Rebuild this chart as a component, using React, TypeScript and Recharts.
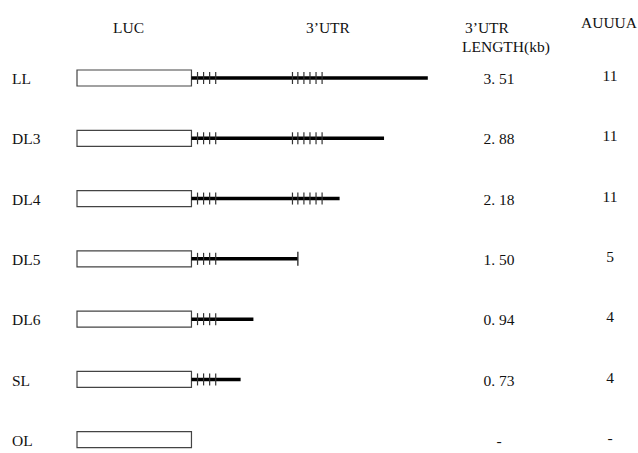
import { ComposedChart, Bar, XAxis, YAxis } from "recharts";

const constructs = ["LL", "DL3", "DL4", "DL5", "DL6", "SL", "OL"];
const lucKb = [1.7, 1.7, 1.7, 1.7, 1.7, 1.7, 1.7];
const utrDrawnKb = [3.51, 2.86, 2.2, 1.58, 0.92, 0.73, 0];
const utrLengthLabels = ["3. 51", "2. 88", "2. 18", "1. 50", "0. 94", "0. 73", "-"];
const auuuaLabels = ["11", "11", "11", "5", "4", "4", "-"];
const proximalAuuua = [0.09, 0.18, 0.27, 0.36];
const distalAuuua = [1.5, 1.58, 1.67, 1.76, 1.85, 1.94];
const hasDistal = [true, true, true, false, false, false, false];
const hasEndMark = [false, false, false, true, false, false, false];

const data = constructs.map((name, i) => ({
  name,
  luc: lucKb[i],
  utr: utrDrawnKb[i],
  marks: utrDrawnKb[i] > 0 ? (hasDistal[i] ? [...proximalAuuua, ...distalAuuua] : proximalAuuua) : [],
  endMark: hasEndMark[i],
  lengthLabel: utrLengthLabels[i],
  auuua: auuuaLabels[i],
}));

const FONT = '"Liberation Serif", "DejaVu Serif", serif';

function UtrShape(props: any) {
  const { x, y, width, height, payload } = props;
  if (!width || width <= 0) return null;
  const cy = y + height / 2;
  const len = payload.utr;
  return (
    <g>
      <line x1={x} x2={x + width} y1={cy} y2={cy} stroke="#000" strokeWidth={3.5} />
      {payload.marks.map((t: number, i: number) => {
        const mx = x + (width * t) / len;
        return <line key={i} x1={mx} x2={mx} y1={cy - 6} y2={cy + 6} stroke="#333" strokeWidth={1.2} />;
      })}
      {payload.endMark && (
        <line x1={x + width} x2={x + width} y1={cy - 7} y2={cy + 7} stroke="#333" strokeWidth={1.4} />
      )}
    </g>
  );
}

function NameTick(props: any) {
  const { y, payload } = props;
  return (
    <text x={12} y={y} dy={6} fontSize={15.5} fontFamily={FONT} fill="#111">
      {payload.value}
    </text>
  );
}

function ValueTick(props: any) {
  const { x, y, payload } = props;
  const row = data[payload.index];
  return (
    <g fontSize={15.5} fontFamily={FONT} fill="#111">
      <text x={x + 18} y={y} dy={6} textAnchor="middle">
        {row.lengthLabel}
      </text>
      <text x={x + 129} y={y} dy={3} textAnchor="middle">
        {row.auuua}
      </text>
    </g>
  );
}

const header: React.CSSProperties = {
  position: "absolute",
  fontSize: 15.5,
  lineHeight: "16px",
  fontFamily: FONT,
  color: "#111",
  whiteSpace: "nowrap",
};

export default function App() {
  return (
    <div style={{ position: "absolute", left: 0, top: 0, width: 638, height: 453, overflow: "hidden", background: "#fff" }}>
      <span style={{ ...header, left: 113, top: 20 }}>LUC</span>
      <span style={{ ...header, left: 306, top: 20 }}>3’UTR</span>
      <span style={{ ...header, left: 465, top: 20 }}>3’UTR</span>
      <span style={{ ...header, left: 462, top: 39 }}>LENGTH(kb)</span>
      <span style={{ ...header, left: 581, top: 15 }}>AUUUA</span>
      <ComposedChart
        layout="vertical"
        width={638}
        height={480}
        data={data}
        margin={{ top: 48, right: 0, bottom: 10, left: 0 }}
      >
        <XAxis type="number" domain={[0, 6]} hide />
        <YAxis
          yAxisId="left"
          type="category"
          dataKey="name"
          width={77}
          axisLine={false}
          tickLine={false}
          tick={<NameTick />}
        />
        <YAxis
          yAxisId="right"
          orientation="right"
          type="category"
          dataKey="name"
          width={157}
          axisLine={false}
          tickLine={false}
          tickSize={0}
          tickMargin={0}
          tick={<ValueTick />}
        />
        <Bar yAxisId="left" dataKey="luc" stackId="construct" barSize={16} fill="#fff" stroke="#444" strokeWidth={1.2} isAnimationActive={false} />
        <Bar yAxisId="left" dataKey="utr" stackId="construct" barSize={16} shape={<UtrShape />} isAnimationActive={false} />
      </ComposedChart>
    </div>
  );
}
